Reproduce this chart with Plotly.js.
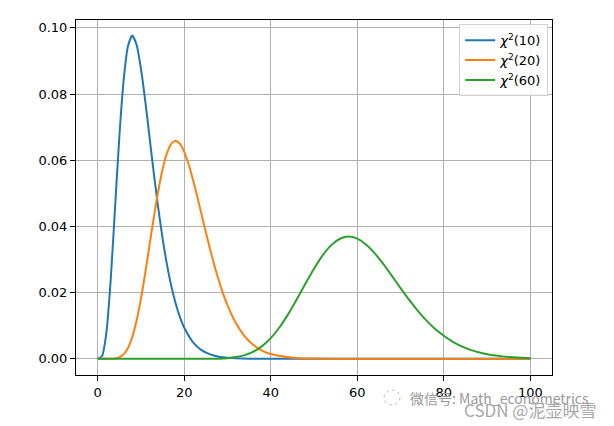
<!DOCTYPE html>
<html>
<head>
<meta charset="utf-8">
<script src="https://cdn.plot.ly/plotly-3.0.1.min.js"></script>
<style>html,body{margin:0;padding:0;background:#fff;}#chart{width:614px;height:426px;}</style>
</head>
<body>
<div id="chart"></div>
<script>
// chi2(10)
const x10 = [0,1,2,3,4,5,6,7,8,9,10,11,12,13,14,15,16,17,18,19,20,22,24,26,28,30,35,40,50,60,70,80,90,100];
const y10 = [0,0.00079,0.00766,0.02353,0.04511,0.06680,0.08402,0.09441,0.09768,0.09490,0.08773,0.07791,0.06693,0.05591,0.04561,0.03646,0.02863,0.02213,0.01687,0.01270,0.00946,0.00509,0.00265,0.00135,0.00067,0.00032,0.00005,0.00001,0,0,0,0,0,0];
// chi2(20)
const x20 = [0,1,2,3,4,5,6,7,8,9,10,11,12,13,14,15,16,17,18,19,20,21,22,23,24,25,26,27,28,29,30,32,34,36,38,40,45,50,60,70,80,90,100];
const y20 = [0,0,0.0000005,0.0000118,0.0000954,0.000431,0.00135,0.00328,0.006615,0.01158,0.018132,0.025935,0.03442,0.042899,0.0507,0.057215,0.062035,0.064931,0.065874,0.064998,0.062551,0.058854,0.054266,0.0491,0.043676,0.038254,0.033027,0.02813,0.023675,0.019688,0.016203,0.010655,0.006763,0.004162,0.002491,0.001454,0.000344,0.000073,0.0000025,0,0,0,0];
// chi2(60)
const x60 = [0,5,10,15,20,25,30,32,34,36,38,40,42,44,46,48,50,52,54,56,58,60,62,64,66,68,70,72,74,76,78,80,82,84,86,88,90,92,94,96,98,100];
const y60 = [0,0,0,0,0.0000003,0.0000136,0.000221,0.000529,0.001128,0.002179,0.003841,0.006257,0.009474,0.013435,0.017937,0.022676,0.027249,0.031262,0.034359,0.036289,0.036935,0.036318,0.034578,0.031942,0.02868,0.025078,0.021383,0.017806,0.014502,0.01156,0.009031,0.006994,0.005213,0.003855,0.002806,0.002011,0.00142,0.000988,0.000678,0.000459,0.000307,0.000203];
const names = ['<i>χ</i><sup>2</sup>(10)','<i>χ</i><sup>2</sup>(20)','<i>χ</i><sup>2</sup>(60)'];
const colors = ['#1f77b4','#ff7f0e','#2ca02c'];
const xTicks = [0,20,40,60,80,100];
const yTicks = [0,0.02,0.04,0.06,0.08,0.10];
const yTickText = ['0.00','0.02','0.04','0.06','0.08','0.10'];

const xs=[x10,x20,x60], ys=[y10,y20,y60];
const traces = xs.map((x,i)=>({x:x,y:ys[i],type:'scatter',mode:'lines',name:names[i],
  line:{color:colors[i],width:2,shape:'spline',smoothing:0.6}}));

const axisCommon = {showline:true,mirror:true,linecolor:'#000',linewidth:1,
  ticks:'outside',ticklen:5,tickwidth:1,tickcolor:'#000',
  showgrid:true,gridcolor:'#b0b0b0',gridwidth:1,zeroline:false,
  tickfont:{family:'DejaVu Sans',size:13,color:'#000'}};

const layout = {
  width:614,height:426,
  margin:{l:76,r:62,t:20,b:51},
  paper_bgcolor:'#fff',plot_bgcolor:'#fff',
  font:{family:'DejaVu Sans',size:13,color:'#000'},
  xaxis:Object.assign({},axisCommon,{range:[-5,105],tickvals:xTicks,ticktext:xTicks.map(String)}),
  yaxis:Object.assign({},axisCommon,{range:[-0.004875,0.102375],tickvals:yTicks,ticktext:yTickText}),
  showlegend:true,
  legend:{x:0.992,xanchor:'right',y:0.988,yanchor:'top',bgcolor:'rgba(255,255,255,0.85)',
    bordercolor:'#d0d0d0',borderwidth:1,font:{family:'DejaVu Sans',size:13,color:'#000'},
    tracegroupgap:0,itemwidth:30},
  shapes:[{type:'circle',xref:'paper',yref:'paper',x0:(384-76)/476,x1:(400-76)/476,y0:(375-405)/355,y1:(375-390)/355,
    line:{color:'#bbbbbb',width:1,dash:'dot'}}],
  annotations:[
    {xref:'paper',yref:'paper',x:(408-76)/476,y:(375-398)/355,xanchor:'left',yanchor:'middle',showarrow:false,
     text:'微信号: Math_econometrics',font:{family:'Noto Sans CJK SC',size:14,color:'#9a9a9a'}},
    {xref:'paper',yref:'paper',x:(462-76)/476,y:(375-409)/355,xanchor:'left',yanchor:'middle',showarrow:false,
     text:'CSDN @泥壶映雪',font:{family:'Noto Sans CJK SC',size:17,color:'#a8a8a8'}}
  ]
};
Plotly.newPlot('chart',traces,layout,{displayModeBar:false,staticPlot:true});
</script>
</body>
</html>
